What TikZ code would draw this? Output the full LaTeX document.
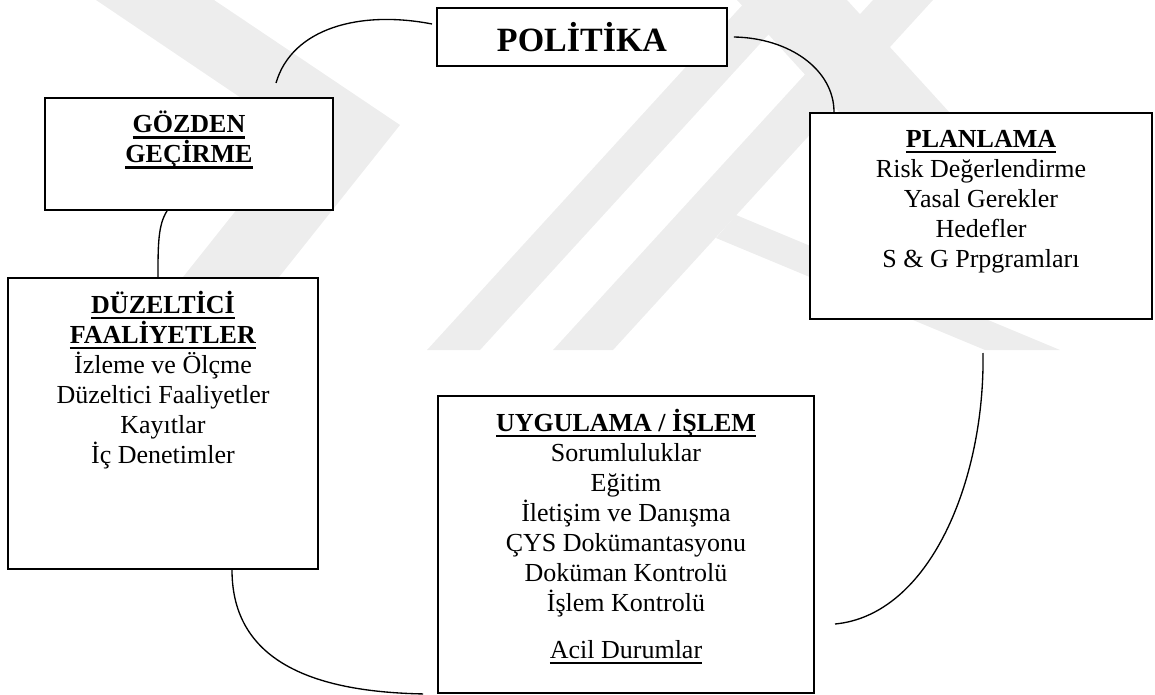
\documentclass[tikz,border=0pt]{standalone}
\usepackage{fontspec}
\setmainfont{Liberation Serif}
\usetikzlibrary{positioning}

\newsavebox{\linebox}
\newcommand{\topline}{\rule{0pt}{15.75pt}}
\newcommand{\headline}[1]{\sbox{\linebox}{\textbf{#1}}\rlap{\rule[-4.2pt]{\wd\linebox}{1.6pt}}\usebox{\linebox}}
\newcommand{\plainline}[1]{\sbox{\linebox}{#1}\rlap{\rule[-3.8pt]{\wd\linebox}{1.1pt}}\usebox{\linebox}}

\tikzset{
	box/.style={draw, fill=white, line width=1.4pt, inner sep=0pt},
	boxtext/.style={align=center, inner sep=0pt, font=\fontsize{19.5}{22.5}\selectfont},
	link/.style={line width=1pt},
	watermark/.style={fill=black!7, draw=none}
}

\begin{document}
\begin{tikzpicture}[x=0.75pt, y=-0.75pt]
	\useasboundingbox (0,0) rectangle (1155,695);

	% faint background logo
	\fill[watermark] (96,0) -- (214,0) -- (400,125) -- (221,350) -- (125,350) -- (296,135) -- cycle;
	\fill[watermark] (427,350) -- (480,350) -- (800,0) -- (747,0) -- cycle;
	\fill[watermark] (553,350) -- (613,350) -- (933,0) -- (873,0) -- cycle;
	\fill[watermark] (736,215) -- (1060,350) -- (985,350) -- (716,238) -- cycle;
	\fill[watermark] (737,0) -- (847,0) -- (950,113) -- (840,113) -- cycle;

	% boxes
	\node [box, minimum width=217.5pt, minimum height=43.5pt, font=\fontsize{25.5}{30}\selectfont\bfseries] (pol) at (582,37) {POLİTİKA};
	\node [box, minimum width=216pt, minimum height=84pt] (goz) at (189,154) {};
	\node [box, minimum width=232.5pt, minimum height=218.25pt] (duz) at (163,423.5) {};
	\node [box, minimum width=256.5pt, minimum height=154.5pt] (pla) at (981,216) {};
	\node [box, minimum width=282pt, minimum height=222.75pt] (uyg) at (626,544.5) {};

	% box texts
	\node [boxtext, below=10.5pt of goz.north] (gozt) {\topline\headline{GÖZDEN}\\\headline{GEÇİRME}};
	\node [boxtext, below=10.5pt of duz.north] (duzt) {\topline\headline{DÜZELTİCİ}\\\headline{FAALİYETLER}\\İzleme ve Ölçme\\Düzeltici Faaliyetler\\Kayıtlar\\İç Denetimler};
	\node [boxtext, below=10.5pt of pla.north] (plat) {\topline\headline{PLANLAMA}\\Risk Değerlendirme\\Yasal Gerekler\\Hedefler\\S \& G Prpgramları};
	\node [boxtext, below=10.5pt of uyg.north] (uygt) {\topline\headline{UYGULAMA / İŞLEM}\\Sorumluluklar\\Eğitim\\İletişim ve Danışma\\ÇYS Dokümantasyonu\\Doküman Kontrolü\\İşlem Kontrolü\\[12.75pt]\plainline{Acil Durumlar}};

	% loose ends of the curves
	\coordinate (gozp) at (276,83);
	\coordinate (polg) at (432,24);
	\coordinate (uygp) at (835,624);
	\coordinate (plau) at (983,353);

	% cycle
	\draw [link] (gozp) .. controls (292,28) and (360,10) .. (polg);
	\draw [link] ([xshift=4.5pt]pol.east) .. controls (790,38) and (834,70) .. (pla.north -| 834,0);
	\draw [link] (uygp) .. controls (930,615) and (985,480) .. (plau);
	\draw [link] (duz.south -| 232,0) .. controls (232,665) and (320,692) .. ([xshift=-10.5pt]uyg.south west);
	\draw [link] (goz.south -| 167,0) .. controls (158,225) and (158,245) .. (duz.north -| 158,0);
\end{tikzpicture}
\end{document}
